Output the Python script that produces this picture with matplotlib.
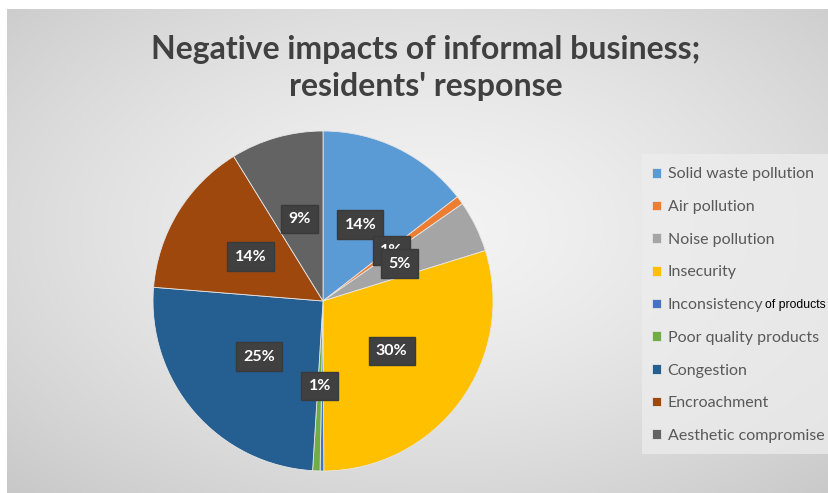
import numpy as np
import matplotlib
matplotlib.use("Agg")
import matplotlib.pyplot as plt
from matplotlib.patches import Rectangle

categories = ["Solid waste pollution", "Air pollution", "Noise pollution", "Insecurity",
              "Inconsistency", "Poor quality products", "Congestion", "Encroachment",
              "Aesthetic compromise"]
shares = [14.5, 0.8, 4.9, 29.7, 0.35, 0.7, 25.3, 14.9, 8.8]
# the label of the tiny "Inconsistency" slice is not visible in the original
pct_labels = ["14%", "1%", "5%", "30%", "", "1%", "25%", "14%", "9%"]
colors = ["#5B9BD5", "#ED7D31", "#A5A5A5", "#FFC000", "#4472C4",
          "#70AD47", "#255E91", "#9E480E", "#636363"]

W, H = 829, 493
fig = plt.figure(figsize=(W / 100, H / 100), dpi=100)
fig.patch.set_facecolor("white")

# gradient background
bg = fig.add_axes([7 / W, 0, 1 - 7 / W, 1 - 9 / H])
yy, xx = np.mgrid[0:484, 0:822]
d = np.hypot((xx - 420) / 822, (yy - 220) / 484)
d = d / d.max()
g = 0.955 - 0.17 * d ** 1.4
bg.imshow(np.dstack([g, g, g]), aspect="auto", extent=[0, 1, 0, 1], origin="upper")
bg.axis("off")
bg.add_patch(Rectangle((635 / 822, 1 - 445 / 484), 1, 300 / 484,
                       facecolor="#ededed", alpha=0.75, edgecolor="none",
                       transform=bg.transAxes))

fig.text(426 / W, 1 - 68 / H, "Negative impacts of informal business;\nresidents' response",
         ha="center", va="center", fontsize=23, fontweight="bold", family="Lato",
         color="#404040", linespacing=1.3)

cx, cy, r = 323, 301, 170
ax = fig.add_axes([(cx - r) / W, (H - cy - r) / H, 2 * r / W, 2 * r / H])
wedges, _ = ax.pie(shares, colors=colors, startangle=90, counterclock=False,
                   wedgeprops=dict(linewidth=0.6, edgecolor="#e6e6e6"))
ax.set_xlim(-1, 1)
ax.set_ylim(-1, 1)
ax.set_aspect("auto")

for w, lab in zip(wedges, pct_labels):
    if not lab:
        continue
    ang = np.deg2rad((w.theta1 + w.theta2) / 2)
    x, y = 0.5 * np.cos(ang), 0.5 * np.sin(ang)
    ax.text(x, y, lab, ha="center", va="center", color="white", fontsize=11.5,
            fontweight="bold", family="Lato",
            bbox=dict(boxstyle="square,pad=0.45", facecolor="#404040", edgecolor="#3a3a3a"))

leg = fig.legend(wedges, categories, loc="upper left", bbox_to_anchor=(646 / W, 1 - 161 / H),
                 frameon=False, prop={"family": "Lato", "size": 11.5},
                 handlelength=0.55, handleheight=0.55, handletextpad=0.4,
                 labelspacing=1.17, borderaxespad=0)
for t in leg.get_texts():
    t.set_color("#595959")

fig.canvas.draw()
t = leg.get_texts()[4]
bb = t.get_window_extent()
fig.text(bb.x1 / W + 2 / W, (bb.y0 + bb.y1) / 2 / H, "of products", ha="left", va="center",
         fontsize=8.8, family="Liberation Sans", color="black")

fig.savefig("out.png", dpi=100)
